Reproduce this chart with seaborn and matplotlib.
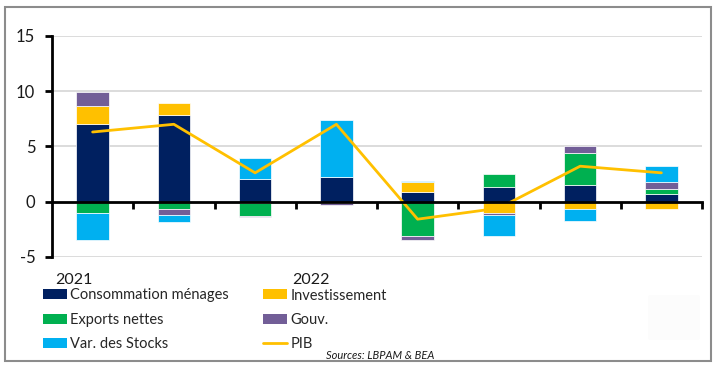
import numpy as np
import pandas as pd
import matplotlib
matplotlib.use("Agg")
import matplotlib.pyplot as plt
import seaborn as sns
from matplotlib.patches import Patch, Rectangle, FancyBboxPatch
from matplotlib.lines import Line2D

# ---------------- data ----------------
quarters = ["T1 2021", "T2 2021", "T3 2021", "T4 2021",
            "T1 2022", "T2 2022", "T3 2022", "T4 2022"]
consommation = [7.0, 7.8, 2.0, 2.2, 0.9, 1.3, 1.5, 0.7]
investissement = [1.7, 1.1, -0.12, 0.05, 0.9, -1.0, -0.7, -0.7]
exports_nettes = [-1.0, -0.7, -1.15, -0.15, -3.1, 1.2, 2.9, 0.45]
gouv = [1.2, -0.5, -0.1, -0.15, -0.4, -0.2, 0.6, 0.65]
stocks = [-2.5, -0.65, 1.95, 5.1, 0.1, -1.9, -1.1, 1.45]
pib = [6.3, 7.0, 2.6, 7.0, -1.6, -0.6, 3.2, 2.6]
year_labels = ["2021", "2022"]
series_names = ["Consommation ménages", "Investissement", "Exports nettes",
                "Gouv.", "Var. des Stocks"]
series_values = [consommation, investissement, exports_nettes, gouv, stocks]
colors = ["#002060", "#FFC000", "#00B050", "#725E97", "#00B0F0"]
pib_color = "#FFC000"

# ---------------- style ----------------
sns.set_theme(style="white")
plt.rcParams["font.family"] = ["Lato", "DejaVu Sans"]
FS = 12
LFS = 10.5
TXT = "#1a1a1a"

fig = plt.figure(figsize=(7.18, 3.69), dpi=100)
W, H = 718, 369
ax = fig.add_axes([52 / W, 1 - 256.7 / H, (702 - 52) / W, (256.7 - 36) / H])

# stacked bars (positives and negatives stacked separately)
pos_bottom = np.zeros(len(quarters))
neg_bottom = np.zeros(len(quarters))
for name, vals, col in zip(series_names, series_values, colors):
    v = np.array(vals, dtype=float)
    bottom = np.where(v >= 0, pos_bottom, neg_bottom)
    df = pd.DataFrame({"trimestre": quarters, "valeur": v})
    sns.barplot(data=df, x="trimestre", y="valeur", color=col, ax=ax,
                width=0.4, bottom=bottom, edgecolor="white", linewidth=0.5,
                saturation=1, errorbar=None, zorder=3)
    pos_bottom = pos_bottom + np.where(v >= 0, v, 0)
    neg_bottom = neg_bottom + np.where(v < 0, v, 0)

# PIB line
df_pib = pd.DataFrame({"trimestre": quarters, "pib": pib})
sns.lineplot(data=df_pib, x="trimestre", y="pib", color=pib_color, lw=2,
             ax=ax, sort=False, zorder=5)

# axes formatting
ax.set_xlim(-0.5, len(quarters) - 0.5)
ax.set_ylim(-5, 15)
ax.set_yticks([-5, 0, 5, 10, 15])
ax.set_yticklabels(["-5", "0", "5", "10", "15"], fontsize=FS, color=TXT)
for yv in [-5, 5, 10, 15]:
    ax.axhline(yv, color="#d9d9d9", lw=1.3, zorder=1)
ax.set_xlabel("")
ax.set_ylabel("")
ax.spines["top"].set_visible(False)
ax.spines["right"].set_visible(False)
ax.spines["left"].set_color("black")
ax.spines["left"].set_linewidth(2)
ax.spines["bottom"].set_position(("data", 0))
ax.spines["bottom"].set_color("black")
ax.spines["bottom"].set_linewidth(2)
ax.spines["bottom"].set_zorder(6)
ax.tick_params(axis="y", which="major", direction="out", length=5, width=2,
               color="black", pad=7, left=True)
ax.set_xticks(np.arange(len(quarters)))
ax.set_xticklabels([])
ax.tick_params(axis="x", which="major", length=0)
ax.set_xticks(np.arange(len(quarters)) + 0.5, minor=True)
ax.tick_params(axis="x", which="minor", direction="out", length=5, width=2,
               color="black", bottom=True)
ax.grid(False)

# year labels
fig.text(55 / W, 1 - 280.5 / H, year_labels[0], fontsize=11.5, va="center",
         ha="left", color=TXT)
fig.text(292 / W, 1 - 280.5 / H, year_labels[1], fontsize=11.5, va="center",
         ha="left", color=TXT)

# legends (two columns)
handles = [Patch(facecolor=c, edgecolor="none") for c in colors]
handles.append(Line2D([0], [0], color=pib_color, lw=2))
labels = series_names + ["PIB"]
col1 = [0, 2, 4]
col2 = [1, 3, 5]
leg_kw = dict(loc="upper left", frameon=False, fontsize=LFS, borderpad=0,
              borderaxespad=0, handlelength=1.65, handleheight=0.68,
              handletextpad=0.22, labelspacing=0.72)
fig.legend([handles[i] for i in col1], [labels[i] for i in col1],
           bbox_to_anchor=(43 / W, 1 - 288.5 / H), **leg_kw)
fig.legend([handles[i] for i in col2], [labels[i] for i in col2],
           bbox_to_anchor=(263 / W, 1 - 288.5 / H), **leg_kw)

fig.text(326 / W, 1 - 355.5 / H, "Sources: LBPAM & BEA", fontsize=8,
         style="italic", va="center", ha="left", color=TXT)

# faint watermark box
fig.patches.append(FancyBboxPatch((648 / W, 1 - 340 / H), 52 / W, 45 / H,
                                  boxstyle="round,pad=0,rounding_size=0.005",
                                  transform=fig.transFigure, facecolor="#fcfcfc",
                                  edgecolor="none", zorder=0))
# outer frame
fig.patches.append(Rectangle((4.5 / W, 1 - 360.5 / H), 706.5 / W, 354 / H,
                             transform=fig.transFigure, fill=False,
                             edgecolor="#8c8c8c", lw=1.5, zorder=10))

fig.savefig("out.png", dpi=100)
